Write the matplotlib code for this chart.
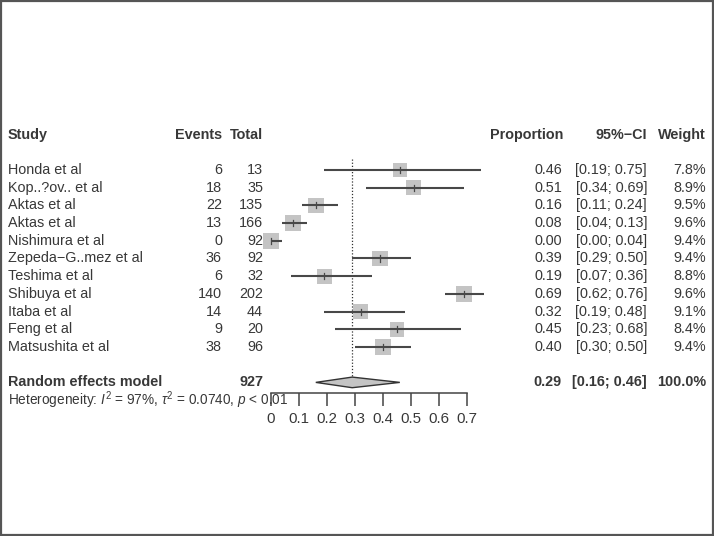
import matplotlib
matplotlib.use("Agg")
import matplotlib.pyplot as plt
from matplotlib.transforms import blended_transform_factory
from matplotlib.patches import Rectangle, Polygon

plt.rcParams['font.family'] = ['Liberation Sans', 'DejaVu Sans']
plt.rcParams['mathtext.fontset'] = 'custom'
plt.rcParams['mathtext.rm'] = 'Liberation Sans'
plt.rcParams['mathtext.it'] = 'Liberation Sans:italic'
plt.rcParams['mathtext.bf'] = 'Liberation Sans:bold'

studies = ["Honda et al", "Kop..?ov.. et al", "Aktas et al", "Aktas et al", "Nishimura et al",
           "Zepeda\u2212G..mez et al", "Teshima et al", "Shibuya et al", "Itaba et al",
           "Feng et al", "Matsushita et al"]
events = [6, 18, 22, 13, 0, 36, 6, 140, 14, 9, 38]
totals = [13, 35, 135, 166, 92, 92, 32, 202, 44, 20, 96]
props = [0.46, 0.51, 0.16, 0.08, 0.00, 0.39, 0.19, 0.69, 0.32, 0.45, 0.40]
ci_low = [0.19, 0.34, 0.11, 0.04, 0.00, 0.29, 0.07, 0.62, 0.19, 0.23, 0.30]
ci_high = [0.75, 0.69, 0.24, 0.13, 0.04, 0.50, 0.36, 0.76, 0.48, 0.68, 0.50]
weights = [7.8, 8.9, 9.5, 9.6, 9.4, 9.4, 8.8, 9.6, 9.1, 8.4, 9.4]

re_total = 927
re_est, re_low, re_high = 0.29, 0.16, 0.46
re_weight = 100.0
hetero = r"Heterogeneity: $\mathit{I}^2$ = 97%, $\tau^2$ = 0.0740, $\mathit{p}$ < 0.01"
xticks = [0, 0.1, 0.2, 0.3, 0.4, 0.5, 0.6, 0.7]

W, H = 714, 536
fig = plt.figure(figsize=(W / 100, H / 100), dpi=100)

row_px = 17.7
y0_px = 170
ytop, ybot = -3.0, 12.6
top_px = y0_px + ytop * row_px
bot_px = y0_px + ybot * row_px
x0_px, x1_px = 271, 467
ax = fig.add_axes([x0_px / W, 1 - bot_px / H, (x1_px - x0_px) / W, (bot_px - top_px) / H])
ax.set_xlim(0, 0.7)
ax.set_ylim(ybot, ytop)
for s in ['top', 'right', 'left']:
    ax.spines[s].set_visible(False)
ax.spines['bottom'].set_bounds(0, 0.7)
ax.spines['bottom'].set_color('#444444')
ax.spines['bottom'].set_linewidth(1.1)
ax.set_yticks([])
ax.set_xticks(xticks)
ax.set_xticklabels([("0" if v == 0 else f"{v:.1f}") for v in xticks])
ax.tick_params(axis='x', length=9, width=1.1, color='#444444', labelcolor='#383838',
               labelsize=10.8, pad=5)
ax.patch.set_visible(False)

txt = '#383838'
fs = 10.4
tr = blended_transform_factory(fig.transFigure, ax.transData)

def px(x):
    return x / W

# header
hdr_y = -2
ax.text(px(8), hdr_y, "Study", transform=tr, ha='left', va='center', fontsize=fs, fontweight='bold', color=txt)
ax.text(px(222), hdr_y, "Events", transform=tr, ha='right', va='center', fontsize=fs, fontweight='bold', color=txt)
ax.text(px(263), hdr_y, "Total", transform=tr, ha='right', va='center', fontsize=fs, fontweight='bold', color=txt)
ax.text(px(563), hdr_y, "Proportion", transform=tr, ha='right', va='center', fontsize=fs, fontweight='bold', color=txt)
ax.text(px(647), hdr_y, "95%\u2212CI", transform=tr, ha='right', va='center', fontsize=fs, fontweight='bold', color=txt)
ax.text(px(706), hdr_y, "Weight", transform=tr, ha='right', va='center', fontsize=fs, fontweight='bold', color=txt)

# dotted line for pooled estimate
ax.plot([re_est, re_est], [-0.6, 12 - 0.3], color='#333333', lw=0.9, ls=(0, (1, 1.5)), zorder=1)

for i, name in enumerate(studies):
    y = i
    ax.text(px(8), y, name, transform=tr, ha='left', va='center', fontsize=fs, color=txt)
    ax.text(px(222), y, str(events[i]), transform=tr, ha='right', va='center', fontsize=fs, color=txt)
    ax.text(px(263), y, str(totals[i]), transform=tr, ha='right', va='center', fontsize=fs, color=txt)
    ax.text(px(562), y, f"{props[i]:.2f}", transform=tr, ha='right', va='center', fontsize=fs, color=txt)
    ax.text(px(647), y, f"[{ci_low[i]:.2f}; {ci_high[i]:.2f}]", transform=tr, ha='right', va='center', fontsize=fs, color=txt)
    ax.text(px(706), y, f"{weights[i]:.1f}%", transform=tr, ha='right', va='center', fontsize=fs, color=txt)
    side = 11.4 * (weights[i] / 9.6) ** 0.5
    ax.scatter([props[i]], [y], marker='s', s=side ** 2, color='#c4c4c4', edgecolors='none', zorder=2, clip_on=False)
    ax.plot([ci_low[i], ci_high[i]], [y, y], color='#484848', lw=1.5, zorder=3, solid_capstyle='butt', clip_on=False)
    ax.plot([props[i], props[i]], [y - 0.17, y + 0.17], color='#484848', lw=0.9, zorder=3, clip_on=False)

# random effects
yr = 12
ax.text(px(8), yr, "Random effects model", transform=tr, ha='left', va='center', fontsize=fs, fontweight='bold', color=txt)
ax.text(px(263), yr, str(re_total), transform=tr, ha='right', va='center', fontsize=fs, fontweight='bold', color=txt)
ax.text(px(562), yr, f"{re_est:.2f}", transform=tr, ha='right', va='center', fontsize=fs, fontweight='bold', color=txt)
ax.text(px(647), yr, f"[{re_low:.2f}; {re_high:.2f}]", transform=tr, ha='right', va='center', fontsize=fs, fontweight='bold', color=txt)
ax.text(px(706), yr, f"{re_weight:.1f}%", transform=tr, ha='right', va='center', fontsize=fs, fontweight='bold', color=txt)
dh = 0.3
ax.add_patch(Polygon([[re_low, yr], [re_est, yr - dh], [re_high, yr], [re_est, yr + dh]], closed=True,
                     facecolor='#c4c4c4', edgecolor='#333333', lw=1.0, zorder=3, clip_on=False))
ax.text(px(8), 13, hetero, transform=tr, ha='left', va='center', fontsize=9.8, color=txt)

# border
fig.patches.append(Rectangle((0.0015, 0.002), 0.997, 0.996, transform=fig.transFigure, fill=False,
                             edgecolor='#555555', lw=1.6))

fig.savefig("out.png", dpi=100)
